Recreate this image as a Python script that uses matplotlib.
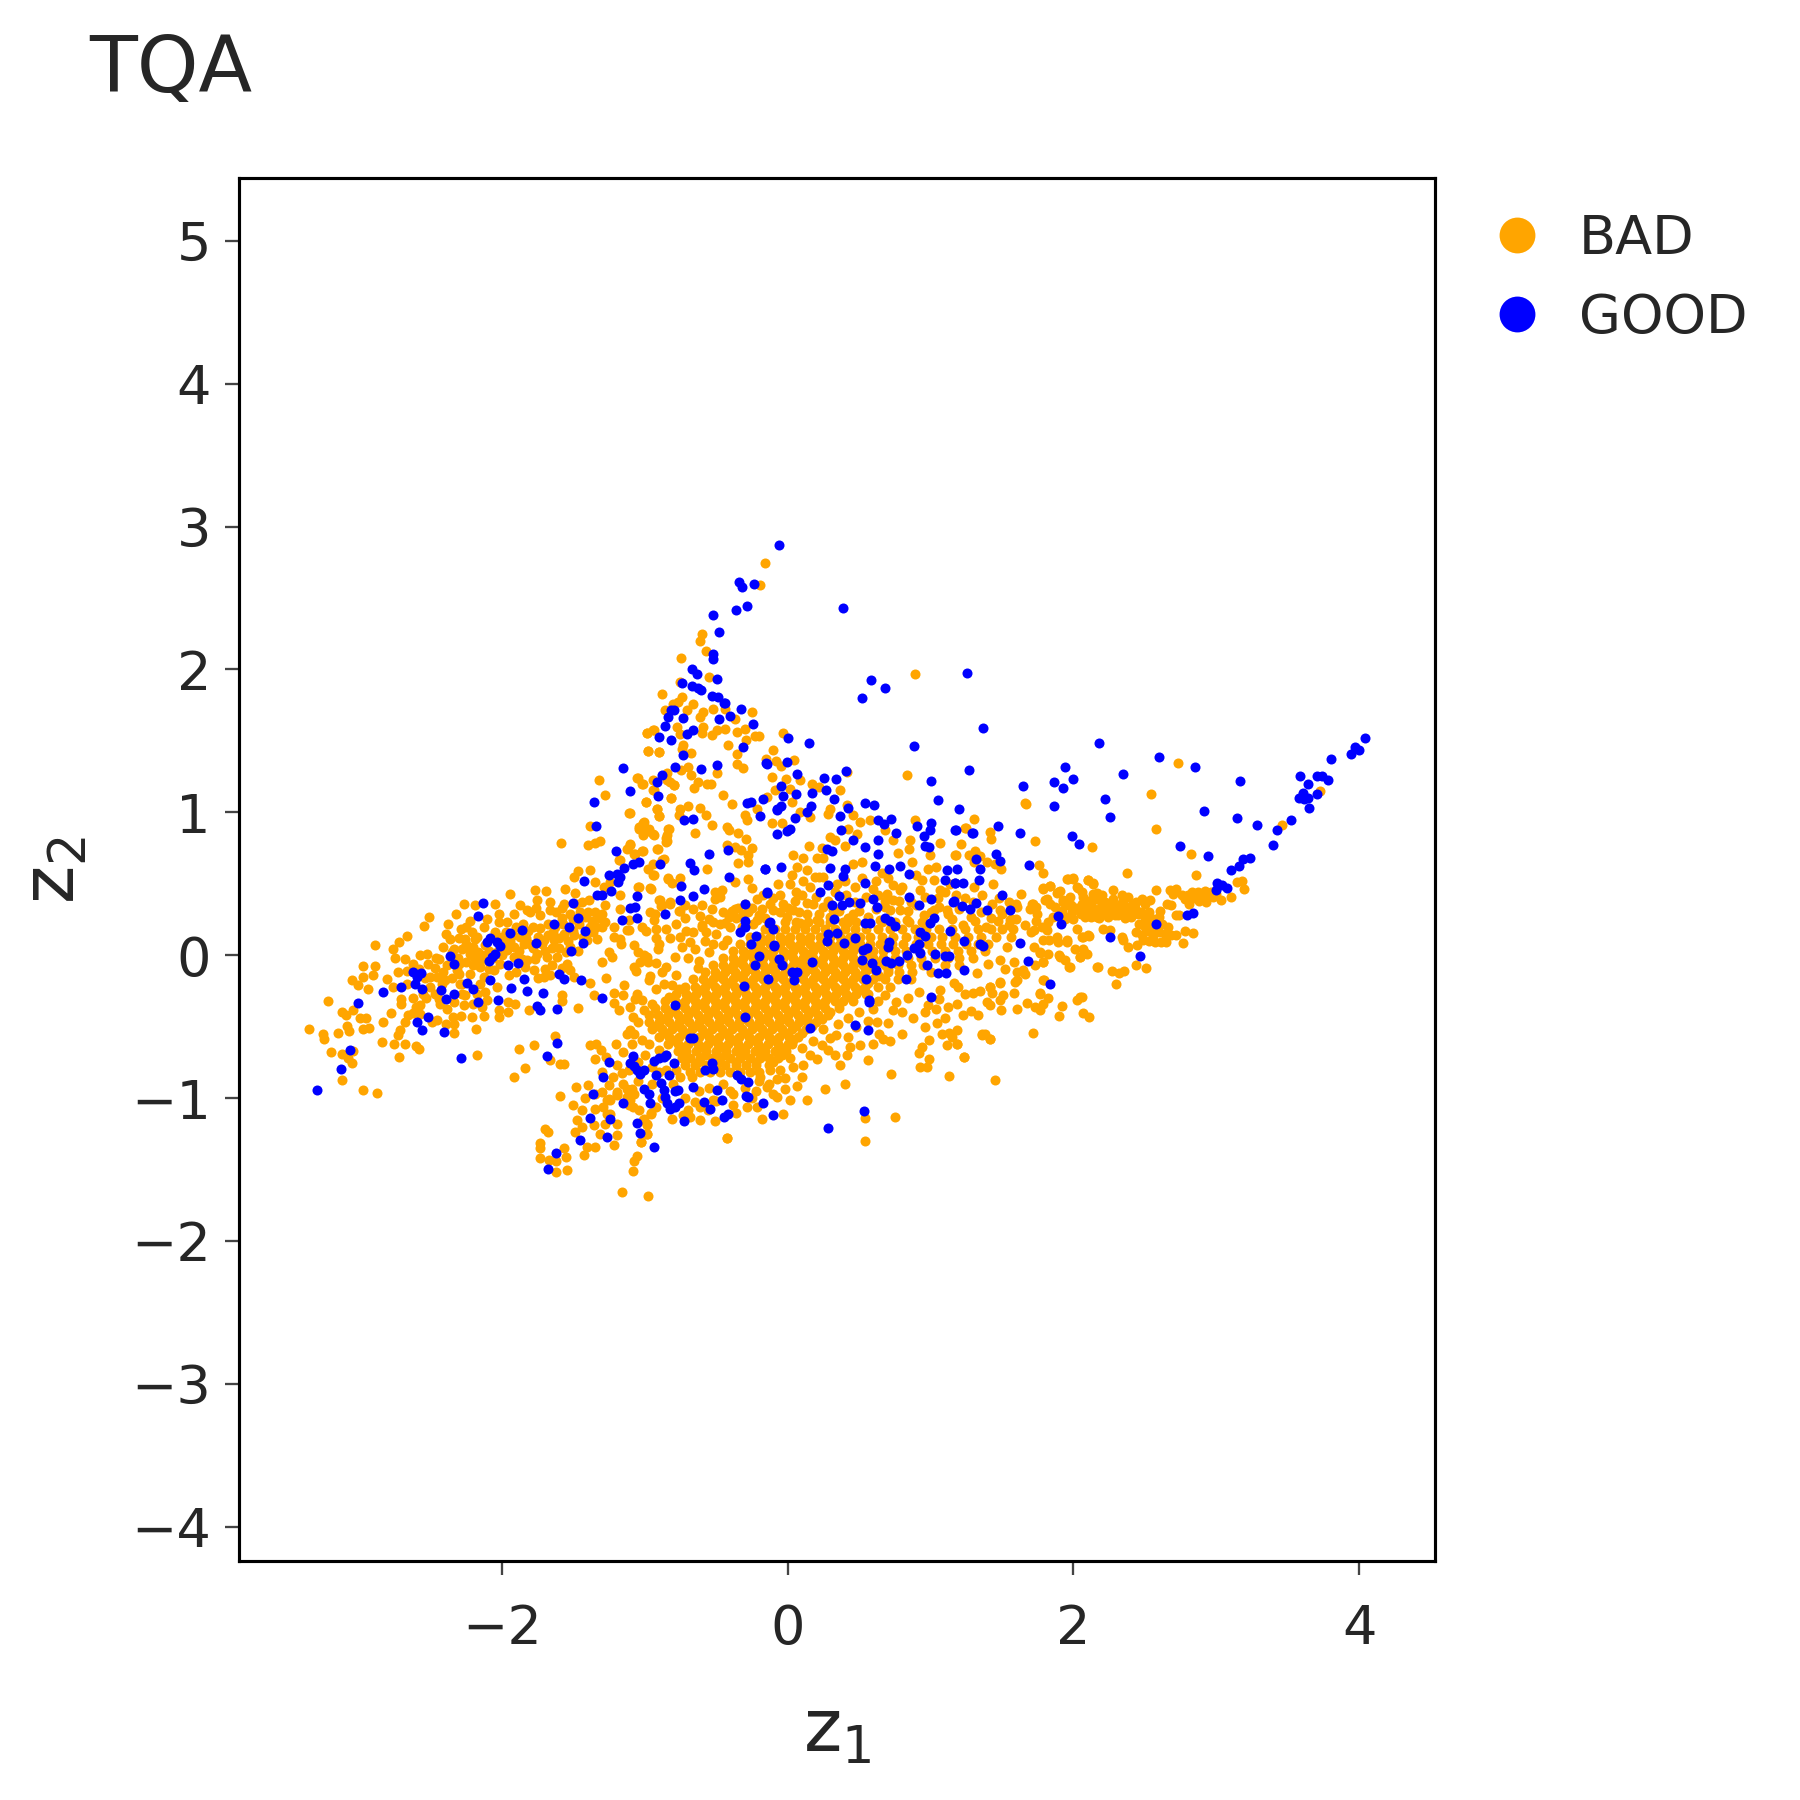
import matplotlib
matplotlib.use("Agg")
import matplotlib.pyplot as plt
from matplotlib.lines import Line2D

TEXT = "#262626"

# GOOD points
good_right = [(1.258,1.978),(1.37,1.593),(2.182,1.486),(2.602,1.39),(2.854,1.32),(1.944,1.32),(2.345,1.269),(1.272,1.297),
(1.865,1.215),(1.995,1.236),(1.93,1.173),(1.65,1.185),(3.169,1.217),(2.219,1.094),(1.865,1.042),(2.254,0.968),(2.912,1.007),
(3.148,0.958),(3.283,0.914),(1.2,1.021),(1.473,0.902),(1.172,0.874),(1.291,0.858),(1.629,0.858),(1.993,0.832),(2.042,0.779),
(2.749,0.765),(2.94,0.695),(1.461,0.709),(1.487,0.66),(1.321,0.674),(1.688,0.629),(1.345,0.606),(1.186,0.604),(1.342,0.527),
(1.174,0.506),(1.23,0.503),(1.503,0.42),(1.16,0.373),(1.219,0.343),(1.279,0.322),(1.321,0.368),(1.394,0.317),(1.559,0.317),
(1.89,0.272),(1.916,0.217),(1.235,0.1),(1.345,0.081),(1.368,0.065),(1.629,0.086),(1.683,-0.042),(1.235,-0.105),(1.837,-0.201),
(2.259,0.128),(2.467,-0.003),(2.581,0.221),(2.796,0.282),(2.838,0.298),(2.996,0.454),(3.003,0.506),(3.038,0.489),(3.073,0.468),
(3.106,0.594),(3.162,0.627),(3.19,0.674),(3.234,0.678),(3.397,0.769),(3.423,0.879),(3.526,0.949),(3.582,1.103),(3.605,1.138),
(3.645,1.098),(3.614,1.096),(3.649,1.033),(3.705,1.126),(3.645,1.196),(3.589,1.255),(3.703,1.255),(3.743,1.252),(3.785,1.224),
(3.801,1.376),(3.941,1.406),(3.971,1.455),(3.997,1.439),(4.041,1.518)]

good_left = [(-3.294,-0.94),(-3.126,-0.798),(-3.061,-0.661),(-2.287,-0.719),(-3.005,-0.332),(-2.83,-0.255),(-2.702,-0.222),
(-2.618,-0.117),(-2.567,-0.124),(-2.595,-0.152),(-2.609,-0.199),(-2.56,-0.236),(-2.424,-0.245),(-2.392,-0.304),(-2.338,-0.273),
(-2.595,-0.469),(-2.56,-0.525),(-2.513,-0.432),(-2.406,-0.535),(-2.361,-0.007),(-2.338,-0.059),(-2.168,0.277),(-2.133,0.368),
(-2.245,-0.192),(-2.205,-0.236),(-2.168,-0.325),(-2.081,-0.175),(-2.03,-0.315),(-1.937,-0.231),(-1.823,-0.252),(-1.715,-0.264),
(-1.753,-0.355),(-1.736,-0.385),(-1.615,-0.378),(-1.846,-0.166),(-1.603,-0.129),(-1.564,-0.168),(-1.445,-0.171),(-1.298,-0.299),
(-2.105,0.093),(-2.084,0.123),(-2.035,0.093),(-2.011,0.065),(-2.047,0.011),(-2.067,-0.012),(-2.088,-0.04),(-1.96,-0.07),
(-1.886,-0.054),(-1.944,0.156),(-1.858,0.174),(-1.76,0.088),(-1.636,0.219),(-1.531,0.198),(-1.505,0.366),(-1.468,0.261),
(-1.421,0.168),(-1.435,0.086),(-1.517,0.028),(-1.424,0.52),(-1.335,0.422),(-1.298,0.422),(-1.235,0.452),(-1.251,0.564),
(-1.195,0.566),(-1.176,0.548),(-1.19,0.513),(-1.148,0.611),(-1.085,0.636),(-1.043,0.655),(-1.204,0.73),(-0.892,0.639),
(-1.162,0.244),(-1.102,0.333),(-1.069,0.335),(-1.057,0.259),(-1.055,0.412),(-0.857,0.286),(-0.749,0.485),(-0.752,0.384),
(-0.665,0.415),(-0.584,0.461),(-0.68,0.646),(-0.652,0.599),(-0.551,0.711),(-0.414,0.739),(-0.409,0.55),(-0.155,0.601),
(-0.145,0.438),(-0.295,0.356),(-0.299,0.237),(-0.297,0.198),(-0.33,0.16),(-0.222,0.135),(-0.253,0.081),(-0.127,0.228),
(-0.103,0.186),(-0.094,0.065),(-0.199,-0.005),(-0.229,-0.066),(-0.136,-0.166),(-0.306,-0.218),(-0.295,-0.43),(-0.789,-0.346),
(-0.68,-0.577),(-0.66,-0.577)]

good_upper = [(-1.153,1.313),(-1.354,1.073),(-1.34,0.907),(-1.106,1.149),(-0.915,1.212),(-0.88,1.262),(-0.906,1.112),(-0.791,1.32),
(-0.607,1.306),(-0.491,1.331),(-0.731,1.399),(-0.311,1.455),(-0.724,0.949),(-0.663,0.956),(-0.897,1.53),(-0.813,1.509),
(-0.703,1.546),(-0.663,1.574),(-0.861,1.602),(-0.834,1.667),(-0.817,1.719),(-0.794,1.714),(-0.731,1.66),(-0.479,1.653),
(-0.402,1.672),(-0.323,1.721),(-0.243,1.621),(-0.442,1.765),(-0.285,1.068),(-0.257,1.073),(-0.169,1.096),(-0.192,0.977),
(-0.075,0.851),(-0.075,1.021),(-0.15,1.343),(-0.059,2.874),(-0.337,2.612),(-0.318,2.577),(-0.232,2.599),(-0.519,2.384),
(-0.36,2.419),(-0.286,2.445),(-0.479,2.26),(0.391,2.428),(-0.519,2.111),(-0.519,2.071),(-0.671,2.006),(-0.636,1.966),
(-0.493,1.931),(-0.736,1.908),(-0.671,1.887),(-0.624,1.873),(-0.603,1.859),(-0.526,1.817),(-0.484,1.808),(-0.44,1.768),
(0.584,1.924),(0.685,1.873),(0.519,1.803),(0.881,1.463),(0.153,1.488),(0.001,1.518),(0.409,1.29),(0.34,1.234),(0.258,1.243),
(1.0,1.218),(1.053,1.089),(0.272,1.155),(0.326,1.094),(0.172,1.138),(0.057,1.127),(0.069,1.267),(-0.006,1.353),(-0.146,1.341),
(-0.043,1.187),(-0.029,1.115),(-0.045,1.043),(-0.076,1.019),(0.162,1.045),(0.134,1.003),(0.05,0.961),(-0.006,0.87),(0.02,0.884)]

good_middle = [(0.426,1.033),(0.368,0.975),(0.542,1.064),(0.605,1.052),(0.636,0.949),(0.722,0.954),(0.675,0.917),(0.757,0.858),
(0.375,0.877),(0.461,0.809),(0.631,0.805),(0.54,0.758),(0.636,0.711),(0.274,0.742),(0.309,0.728),(0.902,0.905),(1.004,0.926),
(0.997,0.875),(0.955,0.833),(0.962,0.763),(0.988,0.758),(1.175,0.875),(1.294,0.858),(1.116,0.597),(1.102,0.525),(1.172,0.508),
(0.612,0.623),(0.708,0.606),(0.783,0.623),(0.848,0.567),(0.3,0.613),(0.405,0.6),(0.386,0.553),(-0.155,0.604),(-0.045,0.62),
(0.545,0.508),(0.281,0.492),(0.228,0.441),(-0.146,0.439),(0.363,0.415),(0.309,0.348),(0.382,0.352),(0.428,0.373),(0.507,0.364),
(0.601,0.39),(0.629,0.338),(0.85,0.408),(0.92,0.348),(1.002,0.394),(1.161,0.376),(0.326,0.252),(0.542,0.222),(0.578,0.226),
(0.682,0.257),(0.717,0.24),(0.752,0.201),(1.025,0.259),(0.993,0.224),(0.927,0.159),(0.962,0.135),(1.133,0.17),(0.281,0.145),
(0.349,0.156),(0.274,0.1),(0.398,0.082),(0.47,0.117),(0.713,0.089),(0.703,0.058),(0.554,0.047),(0.531,0.035),(0.916,0.075),
(0.881,0.047),(0.927,0.016),(0.834,-0.002),(1.032,0.007),(1.102,-0.007),(1.126,-0.007),(0.519,-0.033),(0.594,-0.054),
(0.687,-0.042),(0.722,-0.054),(0.776,-0.044),(0.972,-0.07),(1.049,-0.124),(1.109,-0.128),(0.619,-0.107),(0.55,-0.17),
(0.829,-0.166),(0.172,-0.048),(-0.094,0.068),(-0.057,-0.03),(-0.038,-0.07),(0.029,-0.121),(0.064,-0.121),(0.046,-0.175),
(0.568,-0.315),(1.0,-0.296),(-0.122,0.233),(0.16,-0.513),(0.472,-0.492),(0.563,-0.523),(0.573,-0.327),(0.535,-1.092),(0.283,-1.208)]

good_lower = [(-1.685,-0.705),(-1.615,-0.614),(-1.253,-0.747),(-1.293,-0.85),(-1.363,-0.969),(-1.153,-1.034),(-1.386,-1.136),
(-1.242,-1.148),(-1.263,-1.272),(-1.452,-1.295),(-1.622,-1.381),(-1.68,-1.498),(-1.057,-1.176),(-1.036,-1.244),(-0.934,-1.344),
(-1.083,-0.707),(-1.102,-0.754),(-1.074,-0.777),(-1.055,-0.805),(-1.008,-0.8),(-1.032,-0.833),(-0.934,-0.74),(-0.903,-0.717),
(-0.868,-0.712),(-0.85,-0.698),(-0.796,-0.754),(-0.92,-0.838),(-0.831,-0.838),(-0.885,-0.894),(-1.008,-0.936),(-0.973,-0.973),
(-0.962,-1.034),(-0.868,-0.94),(-0.857,-0.992),(-0.845,-1.034),(-0.826,-1.073),(-0.787,-1.062),(-0.759,-1.034),(-0.787,-0.952),
(-0.764,-0.945),(-0.665,-0.922),(-0.722,-1.16),(-0.584,-1.029),(-0.543,-1.073),(-0.491,-0.943),(-0.456,-1.013),(-0.444,-1.132),
(-0.414,-1.113),(-0.292,-0.985),(-0.274,-0.992),(-0.169,-1.032),(-0.099,-1.115),(-0.528,-0.752),(-0.519,-0.794),(-0.581,-0.805),
(-0.355,-0.84),(-0.327,-0.868),(-0.28,-0.889)]

# BAD points
bad_right = [(2.73,1.346),(2.541,1.131),(2.581,0.884),(1.667,1.061),(1.732,0.797),(2.133,0.755),(2.826,0.706),(2.858,0.559),
(2.373,0.576),(3.458,0.909),(3.726,1.147),(1.417,0.863),(1.422,0.811),(1.303,0.956),(1.242,0.893),(1.214,0.779),(1.172,0.704),
(1.312,0.727),(1.347,0.692),(1.76,0.63),(1.785,0.576),(1.44,0.501),(1.636,0.427),(1.494,0.606),(1.452,0.641),(3.143,0.513),
(3.183,0.52),(3.192,0.462),(3.101,0.408),(3.031,0.389),(2.78,0.39),(2.8,0.42),(2.83,0.44),(2.85,0.4),(2.87,0.44),(2.9,0.42),
(2.92,0.45),(2.94,0.41),(2.96,0.44),(2.98,0.41),(3.0,0.43),(2.88,0.38),(2.93,0.37),(2.81,0.36),(2.76,0.42),(2.72,0.46),
(2.677,0.454),(2.70,0.43),(2.653,0.357),(2.716,0.28),(2.576,0.459),(2.537,0.384),(2.607,0.31),(2.74,0.28),(2.68,0.35),
(2.781,0.17),(2.835,0.156),(2.768,0.088),(2.649,0.095),(2.47,0.3),(2.5,0.26),(2.53,0.3),(2.56,0.25),(2.6,0.27),(2.46,0.22),
(2.5,0.2),(2.54,0.22),(2.58,0.2),(2.62,0.22),(2.66,0.2),(2.44,0.16),(2.48,0.14),(2.52,0.17),(2.56,0.14),(2.6,0.16),(2.64,0.15),
(2.68,0.14),(2.53,0.1),(2.57,0.09),(2.61,0.09),(2.72,0.14),(1.953,0.536),(2.0,0.541),(2.105,0.524),(2.14,0.508),(2.03,0.473),
(2.28,0.454),(1.79,0.464),(1.837,0.485),(1.883,0.438),(1.907,0.45),(1.802,0.384),(1.837,0.361),(1.872,0.338),(1.93,0.384),
(1.965,0.35),(1.708,0.361),(1.739,0.338),(2.338,0.128),(2.35,0.105),(2.385,0.058),(2.443,0.07),(2.49,0.105),(2.07,0.128),
(2.112,0.132),(2.21,0.186),(2.257,0.175),(2.012,0.042),(2.07,0.046),(2.093,0.007),(2.047,-0.012),(2.17,-0.082),(2.268,-0.112),
(2.322,-0.122),(2.355,-0.112),(2.436,-0.07),(2.509,-0.089),(2.301,-0.199),(1.83,0.109),(1.895,0.093),(1.953,0.093),(1.902,0.0),
(1.942,-0.035),(1.97,-0.082),(1.767,0.023),(1.825,0.007),(1.79,-0.047),(1.732,-0.07),(1.662,-0.129),(1.604,-0.117),(1.592,-0.187),
(1.795,-0.175),(1.767,-0.269),(1.825,-0.299),(1.79,-0.339),(1.732,-0.362),(1.767,-0.385),(1.674,-0.332),(1.604,-0.378),
(1.918,-0.355),(1.902,-0.427),(2.023,-0.315),(2.061,-0.292),(2.065,-0.402),(2.11,-0.432),(1.716,-0.542),(1.45,-0.87),(1.235,-0.712),
(1.359,-0.556),(1.382,-0.549),(1.417,-0.583),(1.184,-0.525),(1.149,-0.572),(1.184,-0.618),(1.496,-0.381),(1.417,-0.35),(1.394,-0.327),
(1.487,-0.315),(1.51,-0.28),(1.429,-0.268),(1.417,-0.222),(1.487,-0.187),(1.335,-0.416),(1.284,-0.39),(1.226,-0.418),(1.184,-0.339),
(1.347,-0.25),(1.3,-0.262),(1.242,-0.269),(1.195,-0.222)]

arm_band = [(2.02,0.33),(2.05,0.29),(2.06,0.36),(2.09,0.31),(2.1,0.38),(2.12,0.27),(2.13,0.34),(2.15,0.3),(2.16,0.39),(2.18,0.26),
(2.19,0.34),(2.21,0.3),(2.22,0.37),(2.24,0.27),(2.25,0.33),(2.27,0.3),(2.28,0.39),(2.3,0.34),(2.31,0.28),(2.33,0.36),(2.34,0.31),
(2.36,0.26),(2.37,0.34),(2.38,0.41),(2.39,0.29),(2.41,0.35),(2.42,0.31),(2.44,0.37),(2.45,0.29),(2.2,0.42),(2.14,0.43),(2.06,0.44),
(2.34,0.42),(2.48,0.39),(2.5,0.36),(1.96,0.27),(1.99,0.3),(2.0,0.25),(1.92,0.31),(1.86,0.27),(1.82,0.23),(1.78,0.2),(1.74,0.24),
(1.7,0.16),(1.66,0.21),(2.04,0.32),(2.08,0.27),(2.11,0.35),(2.17,0.29),(2.2,0.36),(2.23,0.31),(2.26,0.36),(2.29,0.28),(2.32,0.32),
(2.35,0.38),(2.38,0.3),(2.4,0.27),(2.43,0.33),(1.98,0.35),(1.94,0.25)]

bad_left_a = [(-3.35,-0.52),(-3.248,-0.549),(-3.241,-0.586),(-3.217,-0.322),(-3.143,-0.542),(-3.194,-0.675),(-3.117,-0.689),(-3.073,-0.717),
(-3.047,-0.756),(-3.038,-0.67),(-3.117,-0.875),(-2.97,-0.945),(-2.87,-0.962),(-3.119,-0.397),(-3.089,-0.42),(-3.038,-0.385),(-3.084,-0.497),
(-3.068,-0.532),(-2.991,-0.439),(-2.949,-0.439),(-2.968,-0.514),(-2.928,-0.507),(-3.045,-0.171),(-3.003,-0.21),(-2.973,-0.152),(-2.933,-0.234),
(-2.968,-0.078),(-2.886,-0.078),(-2.903,-0.14),(-2.886,0.07),(-2.805,-0.164),(-2.758,-0.222),(-2.84,-0.607),(-2.833,-0.467),(-2.774,-0.402),
(-2.753,-0.619),(-2.674,-0.619),(-2.716,-0.712),(-2.599,-0.635),(-2.576,-0.654),(-2.723,-0.56),(-2.711,-0.525),(-2.676,-0.467),(-2.707,-0.304),
(-2.707,-0.343),(-2.758,0.046),(-2.716,0.093),(-2.665,0.137),(-2.746,-0.017),(-2.676,-0.024),(-2.723,-0.117),(-2.665,-0.11),(-2.543,0.207),
(-2.508,0.268),(-2.571,0.0),(-2.525,0.007),(-2.459,-0.017),(-2.513,-0.059),(-2.373,0.221),(-2.322,0.286),(-2.263,0.356),(-2.186,0.349),
(-2.049,0.361),(-2.392,0.151),(-2.361,0.116),(-2.408,0.058),(-2.338,0.046),(-2.284,0.186),(-2.21,0.163),(-2.256,0.116),(-2.175,0.128),
(-2.105,0.256),(-2.128,0.198),(-2.023,0.233),(-1.965,0.233),(-1.918,0.291),(-1.871,0.349),(-1.942,0.431),(-1.767,0.454),(-1.692,0.45),
(-1.755,0.384),(-1.662,0.373),(-1.557,0.466),(-1.487,0.436),(-1.825,0.314),(-1.732,0.279),(-1.662,0.314),(-1.568,0.361),(-1.522,0.291),
(-1.44,0.373),(-1.393,0.384),(-1.347,0.303),(-1.277,0.349),(-1.3,0.291),(-1.382,0.198),(-1.3,0.198),(-1.218,0.198),(-1.125,0.175)]

bad_left_b = [(-1.498,0.548),(-1.468,0.587),(-1.386,0.594),(-1.347,0.513),(-1.288,0.478),(-1.172,0.326),(-1.172,0.419),(-1.242,0.513),
(-2.245,0.058),(-2.198,-0.012),(-2.151,-0.082),(-2.221,-0.129),(-2.128,-0.152),(-2.058,-0.105),(-2.011,-0.059),(-1.918,-0.012),(-1.848,0.081),
(-1.918,0.058),(-1.965,0.034),(-1.825,-0.035),(-1.755,0.011),(-1.685,-0.012),(-1.615,-0.012),(-1.545,-0.059),(-1.708,0.104),(-1.638,0.104),
(-1.568,0.151),(-1.498,0.139),(-1.405,0.104),(-1.335,0.116),(-1.253,0.023),(-1.3,-0.047),(-1.23,-0.012),(-1.778,-0.105),(-1.708,-0.152),
(-1.662,-0.14),(-1.522,-0.105),(-1.498,-0.152),(-1.382,-0.194),(-1.272,-0.157),(-1.148,-0.206),(-1.358,-0.28),(-1.214,-0.262),(-1.218,-0.334),
(-1.183,-0.381),(-1.468,-0.367),(-1.58,-0.28),(-1.577,-0.322),(-1.813,-0.381),(-1.958,-0.395),(-2.023,-0.381),(-2.023,-0.432),(-1.906,-0.343),
(-1.96,-0.327),(-2.128,-0.427),(-2.21,-0.432),(-2.284,-0.425),(-2.343,-0.432),(-2.389,-0.479),(-2.338,-0.483),(-2.182,-0.514),(-2.333,-0.544),
(-2.268,-0.35),(-2.431,-0.339),(-2.385,-0.374),(-2.338,-0.327),(-2.455,-0.455),(-2.49,-0.467),(-2.571,-0.346),(-2.618,-0.404),(-2.653,-0.42),
(-2.571,-0.409),(-2.501,-0.152),(-2.455,-0.152),(-2.408,-0.117),(-2.396,-0.175),(-2.315,-0.105),(-2.501,-0.222),(-2.548,-0.269),(-2.175,-0.269),
(-2.105,-0.315),(-2.035,-0.222),(-2.28,-0.269),(-2.291,-0.199),(-1.883,-0.654),(-1.778,-0.628),(-1.839,-0.789),(-1.918,-0.852),(-2.172,-0.696),
(-1.627,-0.567),(-1.666,-0.731),(-1.592,-0.759),(-1.564,-0.763),(-1.585,0.788),(-1.4,0.769),(-1.347,0.786),(-1.316,0.8),(-1.386,0.905),
(-1.281,1.124),(-1.319,1.227),(-1.05,1.243),(-1.015,1.201),(-0.99,1.075),(-1.106,0.996),(-0.938,1.154),(-0.985,1.555),(-0.938,1.574),
(-0.976,1.429),(-0.899,1.422),(-0.817,1.1),(-0.915,1.021),(-0.899,0.972),(-0.845,1.224),(-0.794,1.189)]

# wing fill between the scattered ones
bad_left_c = [(-2.62,-0.06),(-2.58,-0.1),(-2.54,-0.16),(-2.47,-0.09),(-2.44,-0.03),(-2.42,-0.2),(-2.31,-0.02),(-2.28,0.04),(-2.25,-0.05),
(-2.2,0.06),(-2.17,0.02),(-2.14,0.0),(-2.12,0.07),(-2.1,-0.04),(-2.03,0.03),(-2.0,0.13),(-2.0,0.0),(-1.97,0.16),(-1.94,0.1),(-1.9,0.2),
(-1.87,0.13),(-1.85,0.22),(-1.82,0.17),(-1.8,0.08),(-1.78,0.2),(-1.75,0.13),(-1.73,0.19),(-1.7,0.03),(-1.68,0.22),(-1.65,0.05),(-1.63,0.2),
(-1.6,0.05),(-1.58,0.26),(-1.55,0.02),(-1.52,0.06),(-1.5,0.25),(-1.47,0.03),(-1.45,0.3),(-1.42,0.27),(-1.4,0.16),(-1.37,0.24),(-1.34,0.2),
(-2.3,0.12),(-2.25,0.08),(-2.35,0.02),(-2.38,-0.07),(-2.26,-0.28),(-2.2,-0.34),(-2.15,-0.2),(-2.12,-0.26),(-1.95,-0.14),(-1.9,-0.12),
(-1.84,-0.08),(-1.77,-0.03),(-1.75,-0.16),(-1.7,-0.1),(-1.65,-0.07),(-1.58,-0.09),(-2.25,0.2),(-2.22,0.24),(-2.05,0.16),(-2.02,0.29),
(-1.8,0.3),(-1.76,0.33),(-1.62,0.3),(-1.58,0.33),(-1.48,0.36),(-1.4,0.3),(-2.3,-0.06),(-2.22,0.01),(-2.19,0.11),(-2.16,-0.05),(-2.09,0.03),
(-2.06,-0.02),(-2.03,0.12),(-1.98,0.07),(-1.92,0.14),(-1.88,0.03),(-1.86,-0.03),(-1.83,0.12),(-1.78,0.05),(-1.72,0.08),(-1.68,0.14),(-1.64,0.16),
(-1.6,0.12),(-1.57,0.22),(-1.54,0.1),(-1.5,0.17),(-1.46,0.22),(-1.43,0.13),(-1.36,0.16),(-1.32,0.26),(-1.28,0.23),(-2.35,-0.16),(-2.3,-0.13),
(-2.28,-0.2),(-2.2,-0.07),(-2.47,-0.27),(-2.44,-0.31),(-2.53,-0.3),(-2.62,-0.3),(-2.6,-0.36),(-2.66,-0.2),(-2.14,-0.36),(-2.09,-0.1)]

bad_center_a = [(-1.043,0.898),(-1.008,0.933),(-0.997,0.863),(-0.938,0.839),(-0.973,0.886),(-0.833,0.886),(-0.845,0.839),(-0.845,0.8),
(-0.91,0.746),(-1.125,0.741),(-1.102,0.776),(-1.067,0.706),(-1.015,0.73),(-1.176,0.669),(-0.868,0.671),(-0.934,0.562),(-0.84,0.536),
(-0.81,0.506),(-1.043,0.478),(-0.955,0.466),(-0.896,0.384),(-0.88,0.349),(-0.822,0.361),(-0.752,0.31),(-0.927,0.291),(-0.938,0.244),
(-0.92,0.186),(-0.92,0.123),(-0.992,0.168),(-1.113,0.244),(-1.113,0.175),(-1.218,0.128),(-1.172,0.116),(-1.167,0.081),(-1.078,0.074),
(-1.008,0.0),(-0.985,-0.012),(-0.908,0.041),(-0.787,-0.012),(-0.822,0.121),(-0.712,0.17),(-0.752,0.128),(-1.078,-0.082),(-1.06,-0.11),
(-1.032,-0.047),(-0.922,-0.052),(-0.854,-0.082),(-0.966,-0.148),(-0.973,-0.171),(-0.784,-0.14),(-0.868,-0.199),(-0.81,-0.21),(-0.833,-0.292),
(-1.085,-0.432),(-1.008,-0.385),(-1.055,-0.269),(-1.067,-0.304),(-1.022,-0.315),(-0.95,-0.339),(-1.102,-0.525),(-1.125,-0.549),(-1.02,-0.595),
(-1.09,-0.619),(-1.078,-0.549),(-0.7,-0.02),(-0.65,0.04),(-0.62,-0.04),(-0.58,0.1),(-0.55,0.02),(-0.66,0.16),(-0.6,0.2),
(-0.55,0.25),(-0.5,0.15),(-0.45,0.07),(-0.4,0.2),(-0.72,0.26),(-0.45,0.3),(-0.28,0.3),(-0.2,0.28),(-0.12,0.36),(-0.05,0.3),(-0.36,0.26),
(-0.32,0.2),(-0.24,0.22),(-0.16,0.26),(0.0,0.33),(0.08,0.3),(0.18,0.36),(0.22,0.29),(0.3,0.27),(0.36,0.31),(0.42,0.26),(0.5,0.31),(0.56,0.27),
(0.62,0.32),(0.68,0.34),(0.84,0.31),(0.9,0.35),(1.0,0.3),(1.06,0.34),(1.12,0.29),(1.2,0.32),(1.28,0.27),(1.35,0.3),(1.42,0.26),(1.5,0.29),(1.56,0.25),
(1.15,0.25),(1.23,0.21),(1.31,0.24),(1.39,0.2),(1.47,0.24),(1.55,0.21),(1.6,0.25)]

bad_upper = [(-0.155,2.748),(-0.192,2.589),(-0.598,2.251),(-0.612,2.197),(-0.57,2.127),(-0.745,2.081),(-0.547,1.948),(-0.752,1.913),
(-0.88,1.831),(-0.74,1.808),(-0.764,1.773),(-0.799,1.761),(-0.857,1.714),(-0.659,1.761),(-0.706,1.714),(-0.589,1.703),(-0.519,1.726),
(-0.612,1.668),(-0.246,1.703),(-0.437,1.726),(-0.367,1.656),(-0.297,1.586),(-0.356,1.563),(-0.437,1.586),(-0.496,1.574),(-0.531,1.54),
(-0.589,1.598),(-0.601,1.558),(-0.985,1.556),(-0.939,1.574),(-0.775,1.598),(-0.752,1.551),(-0.293,1.509),(-0.227,1.532),(-0.2,1.532),
(-0.034,1.556),(-0.416,1.474),(-0.356,1.411),(-0.974,1.43),(-0.899,1.423),(-0.729,1.47),(-0.74,1.446),(-0.677,1.418),(-0.104,1.439),
(0.048,1.369),(-0.083,1.36),(-0.045,1.322),(-0.153,1.376),(-0.356,1.337),(-0.314,1.311),(-0.745,1.299),(-0.694,1.318),(-0.678,1.264),
(-0.491,1.276),(-0.111,1.248),(-0.013,1.236),(0.088,1.229),(0.169,1.201),(0.223,1.178),(0.368,1.159),(0.414,1.283),(-1.055,1.241),
(-1.02,1.201),(-0.845,1.276),(-0.822,1.213),(-0.794,1.19),(-0.624,1.213),(-0.566,1.197),(-0.535,1.201),(-0.652,1.173),(-0.939,1.225),
(-0.939,1.159),(-0.817,1.101),(-0.454,1.12),(-0.386,1.057),(-0.99,1.073),(-0.087,1.155),(0.018,1.166),(-0.146,1.108),(0.029,1.073),
(-0.216,1.026),(0.088,1.003),(0.158,0.968),(0.298,1.026),(0.286,0.991),(0.414,1.05),(0.461,0.98),(0.836,1.262),(1.664,1.064),(0.892,1.969),
(-0.915,1.026),(-0.897,0.973),(-1.107,0.996),(-0.752,1.026),(-0.7,1.043),(-0.757,0.98),(-0.612,1.031),(-0.57,0.98),(-0.526,0.914),
(-0.295,0.984),(-0.286,0.945),(-0.11,0.928),(-0.038,0.928),(-0.426,0.898),(-0.407,0.875),(-0.344,0.858),(-0.293,0.816),(-1.013,0.926),
(-1.037,0.886),(-1.009,0.84),(-0.939,0.847),(-0.834,0.886),(-0.85,0.823),(-0.85,0.793),(-0.647,0.858),(-1.102,0.77),(-1.016,0.73),
(-0.911,0.742),(-1.074,0.707),(-1.179,0.669),(-0.876,0.669),(-0.426,0.77),(-0.367,0.758),(-0.328,0.735),(-0.251,0.753),(-0.274,0.7),
(-0.279,0.653),(-0.349,0.648),(-0.566,0.606)]

bad_mid_upper = [(0.578,0.945),(0.682,0.875),(0.741,0.809),(0.892,0.945),(0.857,0.805),(0.846,0.746),(1.067,0.788),(1.247,0.891),(0.298,0.828),
(0.333,0.805),(0.402,0.763),(0.507,0.93),(0.426,0.886),(0.484,0.851),(0.153,0.763),(0.239,0.751),(0.041,0.7),(0.111,0.677),(0.204,0.677),
(0.251,0.677),(0.064,0.618),(0.134,0.595),(0.03,0.56),(0.251,0.548),(0.461,0.641),(0.519,0.653),(0.771,0.718),(0.869,0.653),(0.993,0.7),
(1.177,0.704),(1.266,0.7),(1.301,0.653),(1.394,0.653),(-0.939,0.56),(-0.962,0.471),(-1.044,0.478),(-0.834,0.537),(-0.752,0.537),(-0.897,0.385),
(-0.887,0.345),(-0.822,0.373),(-0.757,0.31),(-0.507,0.443),(-0.461,0.455),(-0.472,0.408),(-0.507,0.396),(-0.531,0.32),(-0.386,0.31),(-0.367,0.326),
(-0.216,0.392),(-0.181,0.326),(-0.104,0.315),(-0.367,0.513),(-0.274,0.536),(-0.251,0.473),(-0.069,0.501),(-0.052,0.42),(0.057,0.443),(0.158,0.478),
(0.193,0.548),(0.134,0.362),(0.251,0.334),(0.041,0.315),(0.134,0.291),(0.344,0.5),(0.472,0.478),(0.601,0.46),(0.659,0.572),(0.741,0.49),(0.8,0.478),
(0.939,0.525),(1.021,0.525),(1.067,0.455),(1.137,0.501),(1.301,0.478),(0.694,0.431),(0.741,0.385),(0.787,0.455),(0.927,0.455),(1.114,0.315),
(1.021,0.315),(0.951,0.28),(0.787,0.315),(0.717,0.315),(0.834,0.245),(0.647,0.245),(0.461,0.291),(0.414,0.222),(0.321,0.315),(0.204,0.245),
(0.088,0.222),(-0.006,0.268),(-0.216,0.245),(-0.309,0.291),(-0.437,0.222),(-0.519,0.233),(-0.6,0.21),(-0.612,0.273),(-0.426,0.105),(1.79,0.467),
(1.837,0.483),(1.895,0.443),(1.72,0.361),(1.814,0.396),(1.93,0.373),(2.0,0.536),(1.965,0.536),(2.105,0.525),(2.14,0.501),(2.024,0.478),(2.07,0.408),
(2.164,0.432),(1.977,0.408),(2.117,0.315),(2.164,0.268),(2.047,0.326),(1.487,0.315),(1.604,0.338),(1.697,0.326),(1.744,0.291),(1.557,0.245),
(1.721,0.175),(1.814,0.175),(1.884,0.128),(1.954,0.105),(2.024,0.186),(2.059,0.128),(2.105,0.14),(1.79,0.105),(1.721,0.058),(1.534,0.058),
(1.767,0.012),(1.907,-0.012),(2.047,-0.012),(2.082,0.012),(1.977,-0.082),(2.164,-0.082),(1.79,-0.047),(1.65,-0.105),(1.604,-0.175),(1.79,-0.175),
(1.487,-0.198),(1.324,-0.128),(1.417,-0.222),(1.161,-0.198),(1.067,-0.245),(1.581,-0.268),(1.767,-0.268),(2.047,-0.292),(1.487,-0.035),(1.581,-0.047),
(1.4,-0.06),(1.52,-0.1)]

bad_lower = [(-1.382,-0.63),(-1.34,-0.619),(-1.307,-0.665),(-1.27,-0.712),(-1.347,-0.728),(-1.3,-0.817),(-1.195,-0.77),(-1.16,-0.824),(-1.113,-0.805),
(-1.253,-0.91),(-1.484,-0.922),(-1.4,-0.91),(-1.592,-0.987),(-1.3,-0.957),(-1.253,-1.003),(-1.195,-0.957),(-1.125,-0.934),(-1.078,-0.969),
(-1.102,-1.015),(-1.043,-1.085),(-1.113,-1.05),(-1.195,-0.98),(-1.44,-1.085),(-1.347,-1.074),(-1.293,-1.062),(-1.265,-1.109),(-1.242,-1.015),
(-1.475,-1.155),(-1.487,-1.237),(-1.44,-1.202),(-1.358,-1.19),(-1.277,-1.179),(-1.195,-1.179),(-1.195,-1.26),(-1.312,-1.249),(-1.218,-1.326),
(-1.347,-1.342),(-1.405,-1.342),(-1.424,-1.4),(-1.701,-1.214),(-1.678,-1.237),(-1.736,-1.311),(-1.736,-1.349),(-1.736,-1.419),(-1.673,-1.435),
(-1.622,-1.442),(-1.554,-1.412),(-1.568,-1.346),(-1.622,-1.519),(-1.547,-1.505),(-1.055,-1.407),(-1.078,-1.44),(-1.083,-1.507),(-1.158,-1.654),
(-0.976,-1.682),(-0.421,-1.279),(-0.985,-1.249),(-1.027,-1.307),(-0.985,-1.179),(-0.955,-1.109),(-1.008,-1.144),(-0.806,-1.143),(-0.729,-1.12),
(-0.682,-1.131),(-0.612,-1.155),(-0.507,-1.159),(-0.36,-1.101),(-0.423,-1.276),(-0.955,-1.103),(-1.009,-1.155),(-0.986,-1.19),(-0.981,-1.248),
(-1.028,-1.306),(-1.079,-1.061),(-1.126,-0.991),(-1.091,-0.933),(-1.196,-0.968),(-1.242,-1.108),(-1.266,-1.015),(-0.612,-1.061),(-0.519,-1.015),
(-0.379,-0.968),(-0.286,-1.061),(-0.216,-1.061),(-0.181,-1.143),(-0.029,-1.108),(0.017,-1.015),(0.134,-1.01),(-0.146,-0.921),(-0.076,-0.991),
(-0.017,-0.933),(0.064,-0.917),(-0.192,-0.852),(-0.076,-0.863),(-0.017,-0.856),(-0.123,-0.805),(0.262,-0.933),(0.402,-0.9),(0.722,-0.833),
(1.13,-0.845),(0.754,-1.131),(0.545,-1.136),(0.545,-1.297),(0.041,-0.782),(0.111,-0.77),(0.204,-0.723),(0.286,-0.66),(0.332,-0.7),(0.367,-0.77),
(0.414,-0.7),(0.566,-0.735),(0.426,-0.572),(0.507,-0.63),(0.601,-0.618),(0.671,-0.583),(0.706,-0.478),(0.741,-0.385),(0.624,-0.467),(0.927,-0.782),
(0.986,-0.723),(0.974,-0.782),(0.922,-0.684),(0.939,-0.642),(0.986,-0.59),(0.962,-0.502),(1.044,-0.478),(1.114,-0.63),(1.184,-0.618),(1.126,-0.548),
(1.235,-0.712),(1.359,-0.555),(1.417,-0.583),(-0.95,-0.78),(-0.9,-0.82),(-0.95,-0.9),(-0.88,-1.0),(-0.8,-0.9),(-0.75,-0.85),(-0.72,-1.0),(-0.67,-0.85),
(-0.62,-0.95),(-0.55,-0.93),(-0.45,-0.9),(-0.38,-1.05),(-0.7,-1.08),(-0.65,-1.03),(-1.05,-0.75),(-1.0,-0.7),(-0.92,-1.06),(-0.4,-0.95),(-0.3,-0.93),
(-0.22,-0.95),(-0.13,-0.9),(-0.05,-0.8),(0.02,-0.72),(0.1,-0.65),(0.18,-0.6),(0.25,-0.52),(0.35,-0.48),(0.42,-0.44),(0.5,-0.4),(0.6,-0.38),(0.3,-0.58)]

# looser areas round the core
bad_fill = [(-0.92,-0.24),(-0.88,-0.12),(-0.76,-0.24),(-0.74,0.06),(-0.68,0.09),(-0.63,-0.09),(-0.57,0.16),(-0.52,0.08),(-0.47,0.22),(-0.41,0.27),
(-0.35,0.33),(-0.3,0.36),(-0.25,0.33),(-0.17,0.42),(-0.1,0.4),(-0.03,0.36),(0.05,0.38),(0.1,0.42),(0.2,0.41),(0.28,0.38),(0.33,0.44),(0.41,0.42),
(0.47,0.37),(0.55,0.41),(0.63,0.42),(0.68,0.38),(0.78,0.38),(0.86,0.37),(0.96,0.41),(1.05,0.4),(1.1,0.44),(1.18,0.42),(1.24,0.4),(1.3,0.37),(1.36,0.42),
(1.43,0.36),(1.48,0.4),(1.55,0.37),(1.6,0.36),(0.02,0.5),(0.11,0.52),(0.22,0.55),(0.4,0.52),(0.52,0.54),(0.62,0.52),(0.7,0.54),(0.9,0.56),(0.98,0.6),
(1.04,0.62),(0.55,-0.27),(0.63,-0.32),(0.68,-0.28),(0.76,-0.33),(0.84,-0.3),(0.92,-0.26),(0.98,-0.35),(1.06,-0.31),(1.12,-0.36),(0.8,-0.4),(0.88,-0.44),
(0.96,-0.4),(1.04,-0.38),(1.1,-0.44),(0.48,-0.5),(0.56,-0.46),(0.64,-0.55),(0.72,-0.6),(0.8,-0.55),(1.08,-0.55),(0.34,-0.56),(0.44,-0.64),(0.16,-0.7),
(0.24,-0.63),(0.1,-0.85),(-0.1,-0.97),(-0.2,-0.88),(-0.25,-1.0),(-0.5,-1.02),(-0.56,-1.08),(-0.85,-0.8),(-0.78,-0.8),(-0.97,-0.62),(-0.9,-0.66),(-0.85,-0.7),
(-1.15,-0.68),(-1.2,-0.62),(-1.22,-0.85),(-1.15,-0.9),(-1.05,-0.88),(-1.35,-0.97),(-1.42,-1.0),(-1.5,-1.05),(-1.05,-0.47),(-1.1,-0.36),(-1.15,-0.28),
(-0.98,-0.05),(-1.05,0.02),(-0.9,0.08),(-0.85,0.18),(-0.78,0.22),(-0.96,0.3),(-1.02,0.2),(-0.72,0.35),(-0.66,0.32),(-0.6,0.35),(-0.94,0.64),(-0.98,0.6)]

# dense core, row by row: one z2 with the z1 positions filled at that height
core_rows = [
    (-0.82, [-0.68,-0.61,-0.54,-0.47,-0.4,-0.33,-0.26,-0.2]),
    (-0.77, [-0.72,-0.65,-0.57,-0.5,-0.44,-0.36,-0.29,-0.22,-0.13]),
    (-0.72, [-0.74,-0.68,-0.61,-0.53,-0.47,-0.4,-0.33,-0.26,-0.19,-0.13,-0.07]),
    (-0.67, [-0.77,-0.71,-0.64,-0.57,-0.5,-0.43,-0.36,-0.3,-0.23,-0.16,-0.09,-0.01]),
    (-0.62, [-0.84,-0.77,-0.7,-0.63,-0.56,-0.49,-0.42,-0.35,-0.28,-0.21,-0.14,-0.07,0.0,0.03]),
    (-0.57, [-0.9,-0.83,-0.76,-0.69,-0.62,-0.55,-0.48,-0.41,-0.34,-0.27,-0.2,-0.13,-0.06,0.01,0.07]),
    (-0.52, [-0.95,-0.88,-0.81,-0.74,-0.67,-0.6,-0.53,-0.46,-0.39,-0.32,-0.25,-0.18,-0.11,-0.04,0.03,0.13]),
    (-0.47, [-0.97,-0.9,-0.83,-0.76,-0.69,-0.62,-0.55,-0.48,-0.41,-0.34,-0.27,-0.2,-0.13,-0.06,0.01,0.08,0.14,0.2]),
    (-0.42, [-0.97,-0.91,-0.84,-0.77,-0.7,-0.63,-0.56,-0.49,-0.42,-0.35,-0.28,-0.21,-0.14,-0.07,0.0,0.07,0.14,0.21,0.28]),
    (-0.37, [-0.93,-0.86,-0.79,-0.72,-0.65,-0.58,-0.51,-0.44,-0.37,-0.3,-0.23,-0.16,-0.09,-0.02,0.05,0.12,0.19,0.26,0.36]),
    (-0.32, [-0.86,-0.79,-0.72,-0.65,-0.58,-0.51,-0.44,-0.37,-0.3,-0.23,-0.16,-0.09,-0.02,0.05,0.12,0.19,0.26,0.33,0.39,0.46]),
    (-0.27, [-0.78,-0.71,-0.64,-0.57,-0.5,-0.43,-0.36,-0.29,-0.22,-0.15,-0.08,-0.01,0.06,0.13,0.2,0.27,0.34,0.41,0.48,0.56]),
    (-0.22, [-0.72,-0.65,-0.58,-0.51,-0.44,-0.37,-0.3,-0.23,-0.16,-0.09,-0.02,0.05,0.12,0.19,0.26,0.33,0.4,0.47,0.54,0.63,0.72]),
    (-0.17, [-0.66,-0.59,-0.52,-0.45,-0.38,-0.31,-0.24,-0.17,-0.1,-0.03,0.04,0.11,0.18,0.25,0.32,0.39,0.46,0.53,0.6,0.68,0.77,0.86]),
    (-0.12, [-0.58,-0.51,-0.44,-0.37,-0.3,-0.23,-0.16,-0.09,-0.02,0.05,0.12,0.19,0.26,0.33,0.4,0.47,0.54,0.62,0.7,0.78,0.87,1.0]),
    (-0.07, [-0.52,-0.45,-0.38,-0.31,-0.24,-0.17,-0.1,-0.03,0.04,0.11,0.18,0.25,0.32,0.39,0.46,0.53,0.6,0.68,0.77,0.86,0.95,1.1,1.2]),
    (-0.02, [-0.45,-0.38,-0.31,-0.24,-0.17,-0.1,-0.03,0.04,0.11,0.18,0.25,0.32,0.39,0.46,0.53,0.6,0.67,0.75,0.84,0.93,1.03,1.12,1.2,1.3]),
    (0.03, [-0.38,-0.31,-0.24,-0.17,-0.1,-0.03,0.04,0.11,0.18,0.25,0.32,0.39,0.46,0.53,0.6,0.67,0.75,0.83,0.92,1.01,1.1,1.19,1.28,1.38]),
    (0.08, [-0.33,-0.26,-0.19,-0.12,-0.05,0.02,0.09,0.16,0.23,0.3,0.37,0.44,0.51,0.58,0.65,0.73,0.81,0.9,0.98,1.07,1.16,1.25,1.33,1.4]),
    (0.13, [-0.26,-0.19,-0.12,-0.05,0.02,0.09,0.16,0.23,0.3,0.37,0.44,0.51,0.58,0.66,0.74,0.83,0.91,1.0,1.08,1.17,1.26,1.35,1.46,1.56]),
    (0.18, [-0.16,-0.09,-0.02,0.05,0.12,0.19,0.26,0.33,0.4,0.47,0.55,0.63,0.72,0.8,0.89,0.97,1.06,1.15,1.24,1.33,1.42,1.5,1.58]),
    (0.23, [-0.02,0.06,0.14,0.22,0.3,0.39,0.48,0.57,0.66,0.75,0.85,0.94]),
    # second pass over the solid part, between the rows above
    (-0.745, [-0.63,-0.49,-0.36,-0.22,-0.1]),
    (-0.695, [-0.72,-0.58,-0.44,-0.31,-0.17,-0.04]),
    (-0.645, [-0.74,-0.6,-0.46,-0.33,-0.19,-0.05]),
    (-0.595, [-0.8,-0.66,-0.52,-0.38,-0.24,-0.1,0.04]),
    (-0.545, [-0.86,-0.72,-0.58,-0.44,-0.3,-0.16,-0.02,0.1]),
    (-0.495, [-0.92,-0.78,-0.64,-0.5,-0.36,-0.22,-0.08,0.06,0.17]),
    (-0.445, [-0.87,-0.73,-0.59,-0.45,-0.31,-0.17,-0.03,0.11,0.24]),
    (-0.395, [-0.82,-0.68,-0.54,-0.4,-0.26,-0.12,0.02,0.16,0.3]),
    (-0.345, [-0.75,-0.61,-0.47,-0.33,-0.19,-0.05,0.09,0.23,0.36]),
    (-0.295, [-0.68,-0.54,-0.4,-0.26,-0.12,0.02,0.16,0.3,0.44]),
    (-0.245, [-0.62,-0.48,-0.34,-0.2,-0.06,0.08,0.22,0.36,0.5]),
    (-0.195, [-0.56,-0.42,-0.28,-0.14,0.0,0.14,0.28,0.42,0.56]),
    (-0.145, [-0.48,-0.34,-0.2,-0.06,0.08,0.22,0.36,0.5,0.64]),
    (-0.095, [-0.42,-0.28,-0.14,0.0,0.14,0.28,0.42,0.56,0.7]),
    (-0.045, [-0.35,-0.21,-0.07,0.07,0.21,0.35,0.49,0.63]),
    (0.005, [-0.28,-0.14,0.0,0.14,0.28,0.42,0.56]),
    (0.055, [-0.22,-0.08,0.06,0.2,0.34,0.48]),
    (0.105, [-0.15,-0.01,0.13,0.27,0.41]),
]

bad_points = bad_right + arm_band + bad_left_a + bad_left_b + bad_left_c + bad_center_a + bad_upper + bad_mid_upper + bad_lower + bad_fill
good_points = good_right + good_left + good_upper + good_middle + good_lower

bad_z1 = [p[0] for p in bad_points]
bad_z2 = [p[1] for p in bad_points]
for row_z2, row_z1 in core_rows:
    bad_z1 += row_z1
    bad_z2 += [row_z2] * len(row_z1)
good_z1 = [p[0] for p in good_points]
good_z2 = [p[1] for p in good_points]

x_ticks = [-2, 0, 2, 4]
y_ticks = [-4, -3, -2, -1, 0, 1, 2, 3, 4, 5]

fig = plt.figure(figsize=(6, 6), dpi=300)
ax = fig.add_axes([0.1327, 0.1328, 0.6645, 0.7683])

ax.scatter(bad_z1, bad_z2, s=5.8, color="orange", linewidths=0, zorder=2)
ax.scatter(good_z1, good_z2, s=5.8, color="blue", linewidths=0, zorder=3)

ax.set_xlim(-3.84, 4.53)
ax.set_ylim(-4.24, 5.44)
ax.set_xticks(x_ticks)
ax.set_yticks(y_ticks)
ax.tick_params(labelsize=13, labelcolor=TEXT, color="#444444", width=0.55, length=3.4)
ax.tick_params(axis="x", pad=6.7)
ax.tick_params(axis="y", pad=3.3)
for side in ax.spines.values():
    side.set_linewidth(0.75)
    side.set_color("black")

ax.set_xlabel(r"$\mathrm{z}_1$", fontsize=17.5, color=TEXT, labelpad=9.5)
ax.set_ylabel(r"$\mathrm{z}_2$", fontsize=17.5, color=TEXT, labelpad=10)
fig.text(0.0497, 0.949, "TQA", fontsize=18.8, color=TEXT, ha="left", va="baseline")

handles = [
    Line2D([], [], linestyle="", marker="o", markersize=8.6, color="orange", markeredgewidth=0, label="BAD"),
    Line2D([], [], linestyle="", marker="o", markersize=8.6, color="blue", markeredgewidth=0, label="GOOD"),
]
ax.legend(handles=handles, loc="upper left", bbox_to_anchor=(1.0365, 0.975), frameon=False, fontsize=13,
          labelcolor=TEXT, labelspacing=0.5, handlelength=1.4, handletextpad=0.45, borderpad=0, borderaxespad=0)

fig.savefig("out.png", dpi=300)
